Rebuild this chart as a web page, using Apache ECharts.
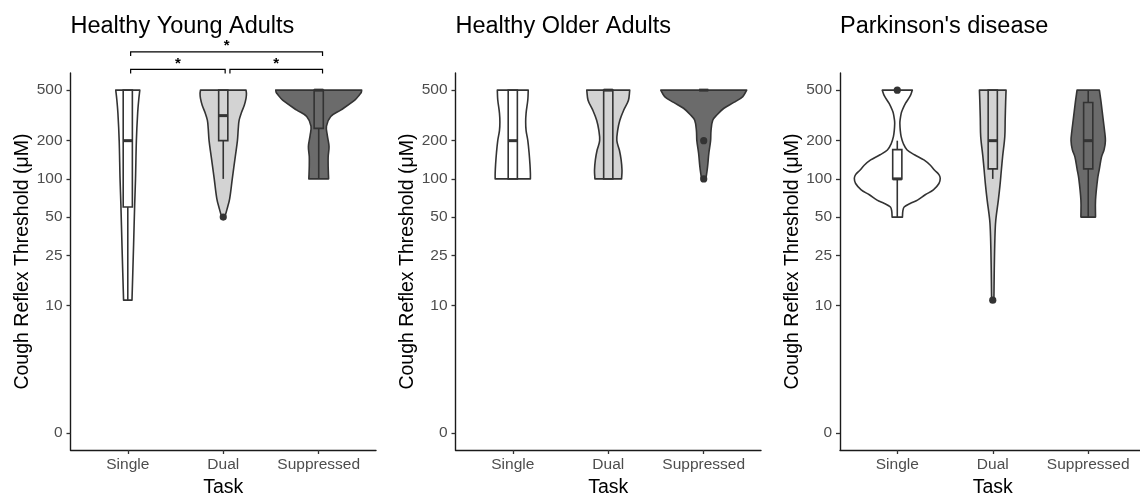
<!DOCTYPE html>
<html><head><meta charset="utf-8">
<script src="https://cdn.jsdelivr.net/npm/echarts@6/dist/echarts.min.js"></script>
<style>html,body{margin:0;padding:0;background:#fff}#c{width:1140px;height:494px}</style>
</head><body><div id="c"></div>
<script>
// ---------------- data ----------------
const panelTitles = ['Healthy Young Adults', 'Healthy Older Adults', "Parkinson's disease"];
const tasks = ['Single', 'Dual', 'Suppressed'];
const yTicks = [0, 10, 25, 50, 100, 200, 500];
const yTickLabels = ['0', '10', '25', '50', '100', '200', '500'];

// violin outlines: [threshold value, relative density (1 = widest violin)], top to bottom
const violinYoungSingle = [[500,.28],[420,.255],[330,.23],[200,.20],[100,.18],[62,.16],[30,.135],[11,.098]];
const violinYoungDual = [[500,.53],[470,.54],[430,.53],[380,.49],[330,.42],[290,.37],[250,.35],[200,.33],[150,.28],[100,.21],[70,.15],[58,.09],[52,.05],[50,.03]];
const violinYoungSupp = [[500,1.0],[480,.99],[460,.95],[417,.84],[348,.51],[310,.28],[260,.18],[220,.20],[180,.24],[150,.22],[125,.22],[100,.23]];

const violinOlderSingle = [[500,.36],[420,.35],[330,.31],[280,.30],[240,.31],[200,.35],[160,.38],[130,.40],[110,.41],[100,.41]];
const violinOlderDual = [[500,.50],[417,.47],[348,.36],[290,.27],[242,.22],[200,.20],[168,.26],[141,.30],[117,.32],[100,.31]];
const violinOlderSupp = [[500,1.0],[445,.91],[400,.70],[360,.47],[320,.31],[290,.21],[240,.17],[200,.16],[160,.12],[125,.09],[105,.06],[100,.05]];

const violinPDSingle = [[500,.35],[450,.30],[393,.19],[350,.12],[327,.09],[290,.065],[273,.06],[240,.07],[215,.09],[190,.14],[169,.23],[155,.40],[141,.62],[128,.77],[117,.87],[108,.97],[101,1.0],[92,.97],[82,.84],[75,.65],[68,.47],[64,.30],[60,.16],[56,.13],[50,.12]];
const violinPDDual = [[500,.31],[400,.30],[300,.29],[215,.28],[150,.23],[117,.20],[90,.17],[68,.13],[47,.07],[34,.05],[19,.035],[12,.028],[11,.025]];
const violinPDSupp = [[500,.26],[400,.30],[290,.35],[240,.38],[200,.40],[170,.37],[149,.31],[120,.26],[101,.22],[68,.17],[50,.17]];

// boxplots: [lower whisker, Q1, median, Q3, upper whisker]
const boxYoung = [[11,60,200,500,500],[100,200,315,500,500],[100,250,500,500,500]];
const boxOlder = [[100,100,200,500,500],[100,100,500,500,500],[500,500,500,500,500]];
const boxPD = [[50,100,100,170,200],[100,120,200,500,500],[50,120,200,400,500]];

// outliers per task
const outliersYoung = [[], [50], []];
const outliersOlder = [[], [], [200, 100]];
const outliersPD = [[500], [11], []];

// significance brackets (young adults): [x start, x end, bracket height value, label]
const sigBrackets = [[1.03, 2.02, 728, '*'], [2.07, 3.04, 728, '*'], [1.03, 3.04, 1000, '*']];

// ---------------- drawing ----------------
const FONT = '"Liberation Sans", Arial, Helvetica, sans-serif';
const fills = ['#ffffff', '#d3d3d3', '#6b6b6b'];
const LINE = '#333333';
const tf = v => Math.asinh(v / 2) / Math.LN10;      // pseudo-log scale
const yMaxT = tf(500), yMin = -0.05 * yMaxT, yMax = yMaxT * 1.05;

const panels = [
  { violins: [violinYoungSingle, violinYoungDual, violinYoungSupp], box: boxYoung, out: outliersYoung },
  { violins: [violinOlderSingle, violinOlderDual, violinOlderSupp], box: boxOlder, out: outliersOlder },
  { violins: [violinPDSingle, violinPDDual, violinPDSupp], box: boxPD, out: outliersPD }
];
const gridLefts = [70.5, 455.5, 840];
const GRID_W = 305.5, GRID_TOP = 73, GRID_H = 377;
const MAX_HALF = 0.45, BOX_HALF = 0.048;
const LW = 1.6;

function dup(p) { return [p[0], p[1]]; }

function violinRender(pi) {
  return function (params, api) {
    const ti = params.dataIndex;
    const prof = panels[pi].violins[ti];
    const bx = panels[pi].box[ti];
    const outs = panels[pi].out[ti];
    const x0 = ti + 1;
    const right = prof.map(d => api.coord([x0 + d[1] * MAX_HALF, tf(d[0])]));
    const left = prof.map(d => api.coord([x0 - d[1] * MAX_HALF, tf(d[0])])).reverse();
    const pts = [];
    right.forEach((p, i) => { pts.push(p); if (i === 0 || i === right.length - 1) pts.push(dup(p)); });
    left.forEach((p, i) => { pts.push(p); if (i === 0 || i === left.length - 1) pts.push(dup(p)); });
    const children = [{
      type: 'polygon',
      shape: { points: pts, smooth: 0.35 },
      style: { fill: fills[ti], stroke: LINE, lineWidth: LW, lineJoin: 'round' }
    }];
    const c = api.coord([x0, tf(bx[2])]);
    const pLW = api.coord([x0, tf(bx[0])]);
    const pQ1 = api.coord([x0 - BOX_HALF, tf(bx[1])]);
    const pQ3 = api.coord([x0 + BOX_HALF, tf(bx[3])]);
    const pUW = api.coord([x0, tf(bx[4])]);
    const q1y = pQ1[1], q3y = pQ3[1];
    if (pLW[1] - q1y > 0.5) children.push({ type: 'line', shape: { x1: c[0], y1: q1y, x2: c[0], y2: pLW[1] }, style: { stroke: LINE, lineWidth: LW } });
    if (q3y - pUW[1] > 0.5) children.push({ type: 'line', shape: { x1: c[0], y1: q3y, x2: c[0], y2: pUW[1] }, style: { stroke: LINE, lineWidth: LW } });
    children.push({ type: 'rect', shape: { x: pQ1[0], y: q3y, width: pQ3[0] - pQ1[0], height: q1y - q3y }, style: { fill: fills[ti], stroke: LINE, lineWidth: LW } });
    children.push({ type: 'line', shape: { x1: pQ1[0], y1: c[1], x2: pQ3[0], y2: c[1] }, style: { stroke: LINE, lineWidth: 3 } });
    outs.forEach(v => {
      const p = api.coord([x0, tf(v)]);
      children.push({ type: 'circle', shape: { cx: p[0], cy: p[1], r: 3.6 }, style: { fill: LINE } });
    });
    return { type: 'group', children };
  };
}

function bracketRender(params, api) {
  const b = sigBrackets[params.dataIndex];
  const a = api.coord([b[0], tf(b[2])]);
  const e = api.coord([b[1], tf(b[2])]);
  const tip = 4;
  return {
    type: 'group',
    children: [
      { type: 'polyline', shape: { points: [[a[0], a[1] + tip], [a[0], a[1]], [e[0], e[1]], [e[0], e[1] + tip]] }, style: { stroke: '#000', lineWidth: 1.2, fill: null } },
      { type: 'text', style: { text: b[3], x: (a[0] + e[0]) / 2, y: a[1] - 6, align: 'center', verticalAlign: 'middle', fontSize: 15, fontWeight: 'bold', fontFamily: FONT, fill: '#000' } }
    ]
  };
}

const grids = [], xAxes = [], yAxes = [], series = [], titles = [];
gridLefts.forEach((gl, pi) => {
  grids.push({ left: gl, top: GRID_TOP, width: GRID_W, height: GRID_H, containLabel: false, outerBoundsMode: 'none' });
  titles.push({ text: panelTitles[pi], left: gl, top: 15, padding: 0, textStyle: { fontSize: 23.5, fontWeight: 'normal', color: '#000', fontFamily: FONT } });
  xAxes.push({
    type: 'value', gridIndex: pi, min: 0.4, max: 3.6,
    name: 'Task', nameLocation: 'middle', nameGap: 28,
    nameTextStyle: { fontSize: 19.5, color: '#000', fontFamily: FONT },
    axisLine: { show: true, onZero: false, lineStyle: { color: '#1a1a1a', width: 1.4 } },
    axisTick: { show: true, length: 4, customValues: [1, 2, 3], lineStyle: { color: '#333', width: 1.3 } },
    axisLabel: { customValues: [1, 2, 3], margin: 7, fontSize: 15.5, color: '#4d4d4d', fontFamily: FONT, formatter: v => tasks[Math.round(v) - 1] },
    splitLine: { show: false }
  });
  yAxes.push({
    type: 'value', gridIndex: pi, min: yMin, max: yMax,
    name: 'Cough Reflex Threshold (μM)', nameLocation: 'middle', nameGap: 33,
    nameTextStyle: { fontSize: 19.5, color: '#000', fontFamily: FONT },
    axisLine: { show: true, onZero: false, lineStyle: { color: '#1a1a1a', width: 1.4 } },
    axisTick: { show: true, length: 4, customValues: yTicks.map(tf), lineStyle: { color: '#333', width: 1.3 } },
    axisLabel: {
      customValues: yTicks.map(tf), margin: 8, fontSize: 15.5, color: '#4d4d4d', fontFamily: FONT,
      formatter: v => { let bi = 0; yTicks.forEach((t, i) => { if (Math.abs(tf(t) - v) < Math.abs(tf(yTicks[bi]) - v)) bi = i; }); return yTickLabels[bi]; }
    },
    splitLine: { show: false }
  });
  series.push({
    type: 'custom', xAxisIndex: pi, yAxisIndex: pi, clip: false,
    data: tasks.map((t, i) => [i + 1, tf(panels[pi].box[i][2])]),
    encode: { x: 0, y: 1 },
    renderItem: violinRender(pi), silent: true
  });
});
series.push({
  type: 'custom', xAxisIndex: 0, yAxisIndex: 0, clip: false,
  data: sigBrackets.map(b => [(b[0] + b[1]) / 2, tf(b[2])]),
  encode: { x: 0, y: 1 },
  renderItem: bracketRender, silent: true
});

const chart = echarts.init(document.getElementById('c'), null, { renderer: 'canvas' });
chart.setOption({ animation: false, backgroundColor: '#fff', title: titles, grid: grids, xAxis: xAxes, yAxis: yAxes, series });
</script>
</body></html>
